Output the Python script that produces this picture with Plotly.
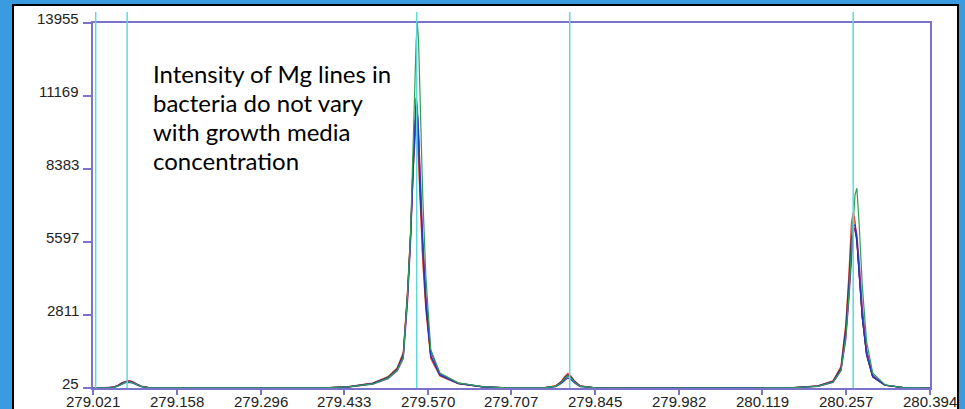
import plotly.graph_objects as go

# ---------------- data ----------------
wavelength = [
    279.021, 279.045, 279.055, 279.062, 279.068, 279.073, 279.077, 279.081, 279.086, 279.092, 279.100, 279.112,
    279.200, 279.330,
    279.400, 279.440, 279.480, 279.505, 279.520, 279.530, 279.537, 279.542, 279.546, 279.549, 279.551, 279.553,
    279.555, 279.558, 279.562, 279.567, 279.575, 279.590, 279.620, 279.660, 279.700,
    279.760, 279.780, 279.789, 279.795, 279.800, 279.805, 279.811, 279.820, 279.845, 279.900,
    280.100, 280.170, 280.210, 280.235, 280.248, 280.256, 280.261, 280.265, 280.268, 280.271, 280.274, 280.278,
    280.283, 280.290, 280.300, 280.320, 280.350, 280.394,
]

green = [
    25, 26, 45, 95, 170, 220, 245, 250, 225, 160, 85, 35,
    25, 25,
    30, 70, 180, 400, 700, 1200, 3600, 6000, 8800, 11600, 13200, 13950, 13300, 10500, 7300, 4300, 1500, 600, 220, 80, 30,
    28, 90, 230, 400, 490, 410, 240, 90, 32, 25,
    25, 35, 90, 250, 700, 2000, 3600, 5300, 6600, 7400, 7650, 6200, 3900, 1800, 600, 150, 40, 25,
]
blue = [
    25, 27, 50, 100, 180, 225, 240, 240, 215, 150, 80, 33,
    25, 25,
    30, 65, 190, 410, 720, 1250, 3500, 5800, 8300, 10400, 11100, 10800, 9700, 7400, 5300, 3300, 1250, 520, 200, 70, 28,
    28, 80, 200, 330, 410, 350, 210, 80, 30, 25,
    25, 35, 95, 260, 720, 2100, 3700, 5400, 6200, 6250, 5700, 4300, 2700, 1300, 450, 130, 40, 25,
]
red = [
    25, 30, 65, 130, 220, 280, 300, 305, 270, 190, 100, 40,
    25, 25,
    32, 75, 210, 450, 780, 1350, 3700, 5900, 8300, 9700, 10100, 9700, 8700, 6700, 4800, 3000, 1150, 480, 190, 70, 28,
    30, 110, 270, 470, 585, 490, 290, 110, 35, 25,
    25, 38, 110, 300, 850, 2500, 4400, 6300, 6750, 6400, 5700, 4300, 2700, 1300, 450, 130, 40, 25,
]
purple = [
    25, 27, 55, 110, 190, 240, 265, 270, 240, 170, 90, 36,
    25, 25,
    28, 60, 170, 380, 680, 1150, 3300, 5600, 8200, 10000, 10600, 10500, 9900, 7800, 5700, 3600, 1400, 580, 210, 75, 28,
    28, 90, 220, 380, 480, 420, 250, 95, 32, 25,
    25, 33, 85, 240, 680, 1900, 3400, 5000, 5900, 6150, 5900, 4800, 3100, 1500, 520, 140, 42, 25,
]
navy = [
    25, 28, 60, 120, 205, 260, 280, 280, 250, 175, 92, 37,
    25, 25,
    30, 70, 200, 430, 750, 1300, 3600, 5900, 8600, 10300, 10800, 10600, 9600, 7300, 5200, 3200, 1250, 520, 200, 70, 28,
    28, 100, 250, 430, 520, 450, 270, 100, 33, 25,
    25, 36, 100, 280, 780, 2300, 4000, 5700, 6100, 6100, 5600, 4300, 2700, 1300, 460, 135, 40, 25,
]
orange = [
    25, 29, 62, 125, 212, 270, 290, 292, 258, 182, 96, 38,
    25, 25,
    33, 78, 215, 460, 800, 1400, 3800, 6000, 8500, 9900, 10300, 10000, 9000, 6900, 4900, 3100, 1200, 500, 195, 72, 29,
    29, 105, 260, 450, 550, 470, 280, 105, 34, 25,
    25, 37, 105, 290, 820, 2400, 4200, 6000, 6500, 6300, 5700, 4300, 2700, 1300, 450, 130, 40, 25,
]

line_markers = [279.0254, 279.077, 279.552, 279.803, 280.268]

x_tick_vals = [279.021, 279.158, 279.296, 279.433, 279.570, 279.707, 279.845, 279.982, 280.119, 280.257, 280.394]
x_tick_text = ["279.021", "279.158", "279.296", "279.433", "279.570", "279.707", "279.845", "279.982", "280.119", "280.257", "280.394"]
y_tick_vals = [25, 2811, 5597, 8383, 11169, 13955]
y_tick_text = ["25", "2811", "5597", "8383", "11169", "13955"]

note_lines = ["Intensity of Mg lines in", "bacteria do not vary", "with growth media", "concentration"]

# ---------------- layout geometry ----------------
W, H = 965, 409
L, R, T, B = 93, 930, 23, 388


def px_x(p):
    return (p - L) / (R - L)


def px_y(p):
    return (B - p) / (B - T)


series = [
    (orange, "#d98c3f"),
    (red, "#e04848"),
    (navy, "#23234f"),
    (purple, "#962aa0"),
    (blue, "#2438c8"),
    (green, "#2f9e55"),
]

fig = go.Figure()
for vals, col in series:
    fig.add_trace(go.Scatter(x=wavelength, y=vals, mode="lines",
                             line=dict(color=col, width=1.2), showlegend=False,
                             hoverinfo="skip"))

shapes = [
    # white slide panel with black border
    dict(type="rect", xref="paper", yref="paper", x0=px_x(13), x1=px_x(958), y0=px_y(420), y1=px_y(5),
         fillcolor="white", line=dict(color="black", width=2), layer="below"),
]
for m in line_markers:
    shapes.append(dict(type="line", xref="x", yref="paper", x0=m, x1=m, y0=0, y1=px_y(12),
                       line=dict(color="#5cdada", width=1.5), layer="above"))

annotations = []
centers = [73.6, 102.6, 131.6, 160.6]
for txt, c in zip(note_lines, centers):
    annotations.append(dict(text=txt, xref="paper", yref="paper", x=px_x(151), y=px_y(c),
                            xanchor="left", yanchor="middle", showarrow=False,
                            font=dict(family="Lato", size=24, color="black")))

tick_font = dict(family="Liberation Sans", size=15, color="#222")

# x tick labels placed just under the axis (reference labels sit tight to the ticks)
for v, t in zip(x_tick_vals, x_tick_text):
    annotations.append(dict(text=t, xref="x", yref="paper", x=v, y=px_y(392),
                            xanchor="center", yanchor="top", showarrow=False, borderpad=0,
                            font=tick_font))

# y tick labels sit just above their tick marks in the reference
for v, t in zip(y_tick_vals, y_tick_text):
    annotations.append(dict(text=t, xref="paper", yref="y", x=px_x(80), y=v,
                            xanchor="right", yanchor="middle", yshift=5, showarrow=False,
                            borderpad=0, font=tick_font))

axis_col = "#7b72c9"
fig.update_layout(
    width=W, height=H,
    margin=dict(l=L, r=W - R, t=T, b=H - B, pad=0, autoexpand=False),
    paper_bgcolor="#3a9be0",
    plot_bgcolor="white",
    shapes=shapes,
    annotations=annotations,
    xaxis=dict(range=[279.021, 280.394], tickvals=x_tick_vals, showticklabels=False,
               showgrid=False, zeroline=False, showline=True, linecolor=axis_col, linewidth=1.5,
               mirror=True, ticks="outside", ticklen=5, tickcolor=axis_col, tickwidth=1.5,
               automargin=False),
    yaxis=dict(range=[25, 13955], tickvals=y_tick_vals, showticklabels=False,
               showgrid=False, zeroline=False, showline=True, linecolor=axis_col, linewidth=1.5,
               mirror=True, ticks="outside", ticklen=8, tickcolor=axis_col, tickwidth=1.5,
               automargin=False),
)

fig.write_html("out.html")
